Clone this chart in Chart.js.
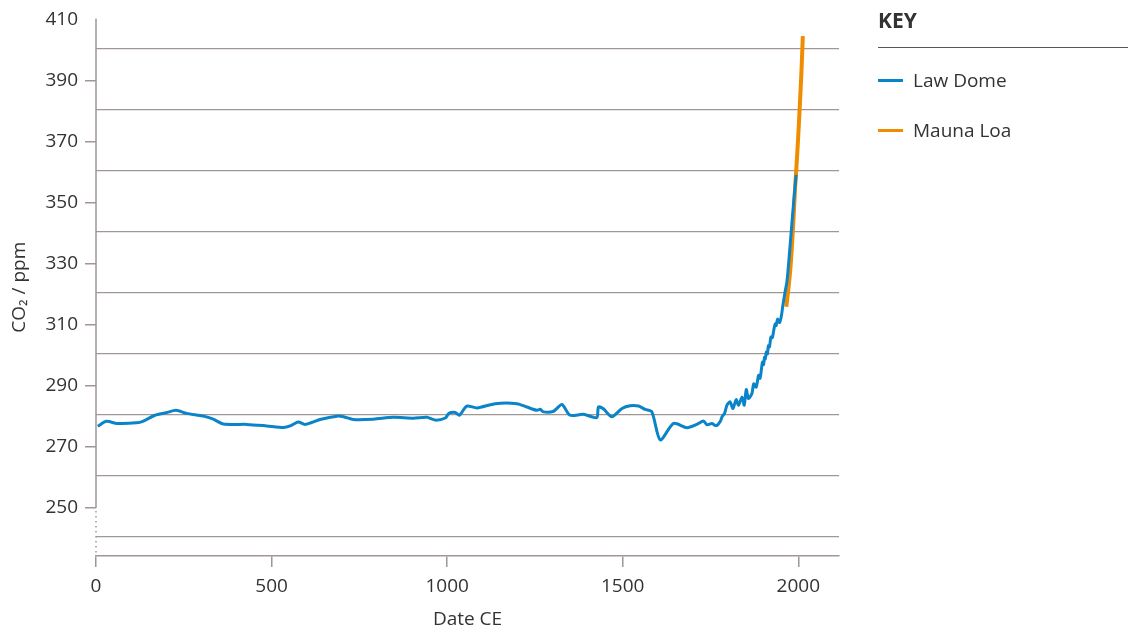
<!DOCTYPE html>
<html>
<head>
<meta charset="utf-8">
<script src="https://cdn.jsdelivr.net/npm/chart.js@4.4.1/dist/chart.umd.min.js"></script>
<style>
  html, body { margin: 0; padding: 0; background: #fff; }
  #wrap { position: relative; width: 1132px; height: 632px; }
  #key { position: absolute; left: 878px; top: 0; width: 250px; font-family: "Open Sans", Lato, sans-serif; color: #333; }
  #key h3 { margin: 0; padding-top: 5px; height: 48px; box-sizing: border-box; line-height: 30px; font-size: 21px; font-weight: 700; border-bottom: 1px solid #555; }
  .item { position: absolute; left: 0; font-size: 19px; line-height: 24px; white-space: nowrap; }
  .item span { display: inline-block; width: 25px; height: 3px; vertical-align: middle; margin-right: 10px; position: relative; top: -1px; }
</style>
</head>
<body>
<div id="wrap">
  <canvas id="canvas"></canvas>
  <div id="key">
    <h3>KEY</h3>
    <div class="item" style="top:68px"><span style="background:#0a84c8"></span>Law Dome</div>
    <div class="item" style="top:118px"><span style="background:#f08c00"></span>Mauna Loa</div>
  </div>
</div>
<script>
// Law Dome ice core (year CE, ppm)
var lawYears = [5, 30, 60, 115, 135, 168, 200, 228, 258, 306, 334, 363, 430, 486, 534, 553, 576, 595, 638, 686,
  705, 733, 790, 847, 904, 942, 966, 995, 1005, 1023, 1035, 1056, 1085, 1137, 1199, 1227, 1256, 1265, 1274, 1303,
  1327, 1350, 1388, 1426, 1431, 1445, 1469, 1498, 1521, 1545, 1564, 1583, 1607, 1645, 1683, 1711, 1730, 1740, 1754, 1763,
  1769, 1778, 1783, 1790, 1797, 1806, 1814, 1823, 1830, 1840, 1846, 1852, 1858, 1868, 1873, 1880, 1887, 1891, 1894, 1898,
  1901, 1904, 1906, 1909, 1912, 1915, 1918, 1922, 1926, 1930, 1934, 1937, 1941, 1947, 1952, 1956, 1963, 1968, 1977, 1987, 1994];
var lawCO2 = [276.8, 278.4, 277.7, 277.9, 278.5, 280.4, 281.2, 282.0, 281.0, 280.1, 279.1, 277.5, 277.4, 276.9, 276.4, 276.9, 278.2, 277.4, 279.0, 280.1,
  279.9, 279.0, 279.1, 279.7, 279.4, 279.7, 278.8, 279.5, 281.0, 281.3, 280.4, 283.4, 282.8, 284.2, 284.2, 283.1, 282.0, 282.4, 281.5, 281.7,
  283.9, 280.4, 280.7, 279.6, 283.1, 282.5, 279.9, 282.6, 283.5, 283.4, 282.3, 281.5, 272.3, 277.7, 276.3, 277.4, 278.5, 277.3, 277.7, 277.1,
  277.1, 278.4, 279.9, 281.0, 283.7, 284.8, 282.6, 285.5, 283.7, 286.4, 283.7, 288.8, 285.9, 287.5, 290.7, 289.6, 293.5, 292.5, 294.5, 297.8,
  297.0, 299.4, 298.8, 301.1, 300.5, 303.2, 302.8, 306.0, 305.8, 308.1, 310.3, 309.8, 311.9, 310.8, 313.0, 316.3, 321.2, 324.4, 336.4, 350.5, 359.2];

// Mauna Loa
var maunaYears = [1966, 1972, 1977, 1982, 1987, 1991, 1994, 1999, 2004, 2009, 2013];
var maunaCO2 = [316.0, 322.0, 327.7, 336.0, 346.0, 355.0, 360.3, 370.0, 381.0, 393.0, 404.7];

var yLabels = [250, 270, 290, 310, 330, 350, 370, 390, 410];
var gridLevels = [240.7, 260.7, 280.7, 300.7, 320.7, 340.7, 360.7, 380.7, 400.7];
var xLabels = [0, 500, 1000, 1500, 2000];

var axisColor = '#a09696';
var textColor = '#333';
var font = { family: '"Open Sans", Lato, sans-serif', size: 19 };

function toPoints(xs, ys) {
  return xs.map(function (x, i) { return { x: x, y: ys[i] }; });
}

// y axis line: solid above 250, dotted below (axis break)
var axisBreak = {
  id: 'axisBreak',
  afterDraw: function (chart) {
    var ctx = chart.ctx;
    var y = chart.scales.y;
    var x = chart.scales.x.getPixelForValue(0);
    ctx.save();
    ctx.strokeStyle = axisColor;
    ctx.lineWidth = 1.5;
    ctx.beginPath();
    ctx.moveTo(x, y.getPixelForValue(y.max));
    ctx.lineTo(x, y.getPixelForValue(250));
    ctx.stroke();
    ctx.setLineDash([1.5, 3.5]);
    ctx.beginPath();
    ctx.moveTo(x, y.getPixelForValue(250) + 3);
    ctx.lineTo(x, y.getPixelForValue(y.min));
    ctx.stroke();
    ctx.restore();
  }
};

var config = {
  type: 'line',
  data: {
    datasets: [{
      label: 'Law Dome',
      data: toPoints(lawYears, lawCO2),
      borderColor: '#0a84c8',
      borderWidth: 3,
      pointRadius: 0,
      tension: 0.25,
      fill: false
    }, {
      label: 'Mauna Loa',
      data: toPoints(maunaYears, maunaCO2),
      borderColor: '#f08c00',
      borderWidth: 4,
      pointRadius: 0,
      tension: 0.3,
      fill: false
    }]
  },
  options: {
    responsive: true,
    maintainAspectRatio: false,
    animation: false,
    layout: { padding: { top: 16, right: 293, left: 0, bottom: 0 } },
    plugins: { legend: { display: false }, tooltip: { enabled: false } },
    scales: {
      x: {
        type: 'linear',
        min: 0,
        max: 2116,
        afterBuildTicks: function (s) { s.ticks = xLabels.map(function (v) { return { value: v }; }); },
        afterFit: function (s) { s.height = 76; },
        ticks: { color: textColor, font: font, padding: 8, callback: function (v) { return String(v); } },
        grid: { drawOnChartArea: false, drawTicks: true, tickLength: 11, color: axisColor, lineWidth: 1.5 },
        border: { color: axisColor, width: 1.5 },
        title: { display: true, text: 'Date CE', color: textColor, font: font, padding: { top: 0, bottom: 1 } }
      },
      y: {
        min: 234.25,
        max: 410.5,
        afterBuildTicks: function (s) { s.ticks = yLabels.map(function (v) { return { value: v }; }); },
        afterFit: function (s) { s.width = 96; },
        ticks: { color: textColor, font: font, padding: 7 },
        grid: {
          drawOnChartArea: false, drawTicks: true, tickLength: 11, lineWidth: 1.5,
          color: function (c) { return c.tick && c.tick.value === 410 ? 'rgba(0,0,0,0)' : axisColor; }
        },
        border: { display: false },
        title: { display: true, text: 'CO₂ / ppm', color: textColor, font: font, padding: { top: 8, bottom: 0 } }
      },
      grid: {
        position: 'right',
        min: 234.25,
        max: 410.5,
        afterBuildTicks: function (s) { s.ticks = gridLevels.map(function (v) { return { value: v }; }); },
        afterFit: function (s) { s.width = 0; },
        ticks: { display: false },
        grid: { drawTicks: false, color: axisColor, lineWidth: 1.3 },
        border: { display: false }
      }
    }
  },
  plugins: [axisBreak]
};

var ctx = document.getElementById('canvas');
window.myChart = new Chart(ctx, config);
</script>
</body>
</html>
